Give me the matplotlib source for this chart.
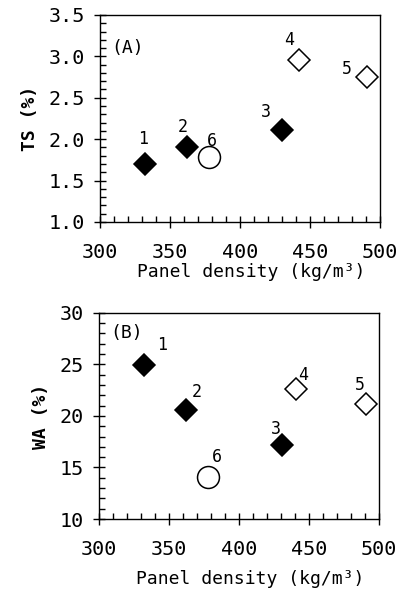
import matplotlib
matplotlib.use("Agg")
import matplotlib.pyplot as plt
from matplotlib.ticker import MultipleLocator, FormatStrFormatter

plt.rcParams['font.family'] = ['DejaVu Sans Mono']

# ---- data ----
ids = ["1", "2", "3", "4", "5", "6"]
density = [332, 362, 430, 442, 491, 378]
ts = [1.70, 1.90, 2.11, 2.96, 2.75, 1.79]
density_b = [332, 362, 431, 441, 491, 378]
wa = [24.9, 20.6, 17.2, 22.6, 21.2, 14.1]
markers = ["D", "D", "D", "D", "D", "o"]
filled = [True, True, True, False, False, False]

# label offsets (points)
off_a = [(-1.5, 18), (-3, 15), (-11.5, 13), (-7, 14.5), (-14.5, 6), (2, 11.5)]
off_b = [(13, 14.5), (8, 13), (-5, 11.5), (5, 10), (-4.5, 13.5), (6.5, 14.5)]

fig = plt.figure(figsize=(4.07, 5.91), dpi=100)
ax1 = fig.add_axes([0.2457, 0.6244, 0.688, 0.3503])
ax2 = fig.add_axes([0.2432, 0.1218, 0.688, 0.349])


def draw(ax, xs, ys, offs):
    for i in range(len(xs)):
        ms = 15.8 if markers[i] == "o" else 11.2
        ax.plot([xs[i]], [ys[i]], marker=markers[i], ms=ms,
                mfc="black" if filled[i] else "white", mec="black",
                mew=1.1, ls="none", clip_on=False, zorder=3)
        ax.annotate(ids[i], (xs[i], ys[i]), xytext=offs[i],
                    textcoords="offset points", ha="center", va="center",
                    fontsize=12)
    ax.set_xlim(300, 500)
    ax.xaxis.set_major_locator(MultipleLocator(50))
    ax.xaxis.set_minor_locator(MultipleLocator(10))
    ax.tick_params(which="major", direction="inout", length=8, width=1.0,
                   labelsize=14.5, top=False, right=False)
    ax.tick_params(which="minor", direction="in", length=4, width=1.0,
                   top=False, right=False)
    ax.tick_params(axis="x", which="major", pad=11)
    ax.tick_params(axis="y", which="major", pad=7)
    for s in ax.spines.values():
        s.set_linewidth(1.0)


draw(ax1, density, ts, off_a)
ax1.set_ylim(1.0, 3.5)
ax1.yaxis.set_major_locator(MultipleLocator(0.5))
ax1.yaxis.set_minor_locator(MultipleLocator(0.1))
ax1.yaxis.set_major_formatter(FormatStrFormatter("%.1f"))
ax1.set_xlabel("Panel density (kg/m³)", fontsize=13)
ax1.xaxis.set_label_coords(0.54, -0.2)
ax1.set_ylabel("TS (%)", fontsize=13, fontweight="bold")
ax1.yaxis.set_label_coords(-0.218, 0.5)
ax1.text(0.1, 0.84, "(A)", transform=ax1.transAxes, fontsize=13,
         ha="center", va="center")

draw(ax2, density_b, wa, off_b)
ax2.set_ylim(10, 30)
ax2.yaxis.set_major_locator(MultipleLocator(5))
ax2.yaxis.set_minor_locator(MultipleLocator(1))
ax2.set_xlabel("Panel density (kg/m³)", fontsize=13)
ax2.xaxis.set_label_coords(0.54, -0.245)
ax2.set_ylabel("WA (%)", fontsize=13, fontweight="bold")
ax2.yaxis.set_label_coords(-0.175, 0.5)
ax2.text(0.1, 0.9, "(B)", transform=ax2.transAxes, fontsize=13,
         ha="center", va="center")

fig.savefig("out.png", dpi=100)
